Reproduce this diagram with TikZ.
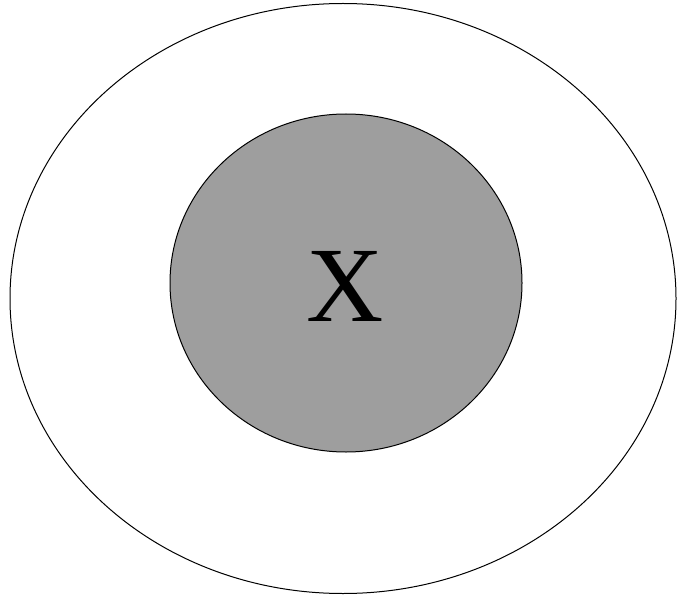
\documentclass[tikz,border=0pt]{standalone}
\usepackage{fontspec}
\setmainfont{Liberation Serif}
\definecolor{coregray}{RGB}{158,158,158}
\begin{document}
\begin{tikzpicture}[x=1pt,y=-1pt,
  ring/.style={draw=black,line width=1pt},
  core/.style={draw=black,line width=1pt,fill=coregray}]
\useasboundingbox (0,0) rectangle (677,596);
\draw[ring] (343,298.5) ellipse [x radius=333, y radius=295];
\draw[core] (346,283) ellipse [x radius=176, y radius=169];
\node (x) at (345.5,286.5) {\fontsize{107}{107}\selectfont X};
\end{tikzpicture}
\end{document}
